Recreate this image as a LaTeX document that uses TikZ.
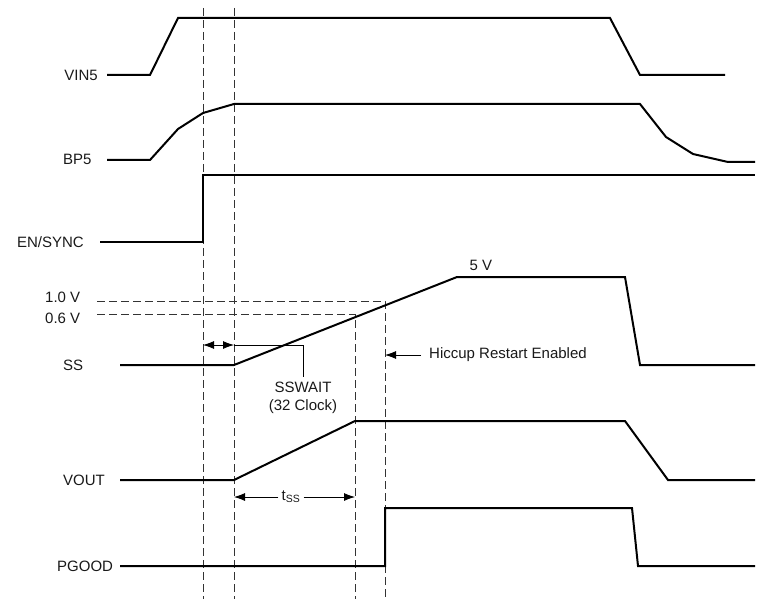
\documentclass[tikz,border=0pt]{standalone}
\usepackage{fontspec}
\setmainfont{Liberation Sans}
\usetikzlibrary{arrows.meta}
\begin{document}
\begin{tikzpicture}[x=1pt,y=-1pt,
  wave/.style={line width=2pt,line join=miter},
  guide/.style={line width=0.8pt,dash pattern=on 8pt off 4pt,black!80},
  lbl/.style={font=\fontsize{15}{17}\selectfont,inner sep=0pt,text=black!90},
  arr/.style={line width=0.8pt,-{Latex[length=11pt,width=8pt]}},
  darr/.style={line width=0.8pt,{Latex[length=11pt,width=8pt]}-{Latex[length=11pt,width=8pt]}}]
\useasboundingbox (0,0) rectangle (771,599);
% guide lines
\draw[guide] (203,8) -- (203,599);
\draw[guide] (234,8) -- (234,599);
\draw[guide] (97,301) -- (385,301) -- (385,599);
\draw[guide] (97,314) -- (355,314) -- (355,599);
% waveforms
\draw[wave] (107,75) -- (150,75) -- (178,18) -- (610,18) -- (640,75) -- (725,75);
\draw[wave] (107,160) -- (150,160) -- (178,129) -- (203,113) -- (234,104) -- (640,104) -- (666,137) -- (693,154) -- (728,162) -- (755,162);
\draw[wave] (100,242) -- (203,242) -- (203,175) -- (755,175);
\draw[wave] (120,365) -- (234,365) -- (457,277) -- (625,277) -- (640,365) -- (755,365);
\draw[wave] (120,480) -- (234,480) -- (355,421) -- (625,421) -- (668,480) -- (755,480);
\draw[wave] (120,566) -- (385,566) -- (385,508) -- (632,508) -- (638,566) -- (755,566);
% signal labels
\node[lbl,anchor=east] (vin) at (98,75) {VIN5};
\node[lbl,anchor=west] (bp) at (63,159) {BP5};
\node[lbl,anchor=east] (en) at (84,242) {EN/SYNC};
\node[lbl,anchor=west] (ss) at (63,365) {SS};
\node[lbl,anchor=west] (vout) at (63,480) {VOUT};
\node[lbl,anchor=west] (pg) at (57,566) {PGOOD};
\node[lbl,anchor=west] (v10) at (45,297) {1.0 V};
\node[lbl,anchor=west] (v06) at (45,318) {0.6 V};
\node[lbl] (v5) at (481,265) {5 V};
% SSWAIT
\coordinate (sa) at (203,345);
\coordinate (sb) at (234,345);
\coordinate (sc) at (303,345);
\coordinate (sd) at (303,377);
\node[lbl,anchor=north] (sw) at (303,382) {SSWAIT};
\node[lbl] (sw2) at (303,407) {(32 Clock)};
\draw[darr] (sa) -- (sb);
\draw[line width=0.8pt] (sb) -- (sc) -- (sd);
% Hiccup
\coordinate (ha) at (385,355);
\node[lbl,anchor=west] (hic) at (429,355) {Hiccup Restart Enabled};
\draw[arr] (421,355) -- (ha);
% tss
\node[lbl] (tss) at (291,497) {t\textsubscript{SS}};
\coordinate (ta) at (234,497);
\coordinate (tb) at (355,497);
\draw[arr] (tss.west) ++(-3,0) -- (ta);
\draw[arr] (tss.east) ++(3,0) -- (tb);
\end{tikzpicture}
\end{document}
